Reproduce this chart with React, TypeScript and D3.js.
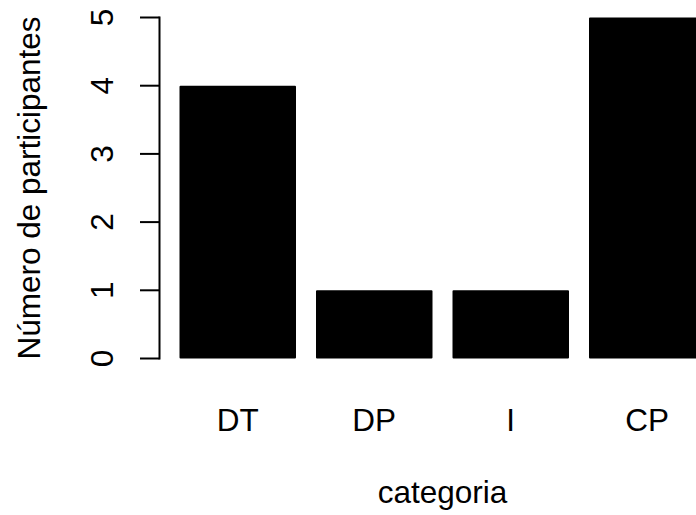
import React from "react";
import * as d3 from "d3";

const categories = ["DT", "DP", "I", "CP"];
const values = [4, 1, 1, 5];
const yTicks = [0, 1, 2, 3, 4, 5];

const W = 696;
const H = 515;
const FONT = "'Liberation Sans', Arial, sans-serif";

export default function App() {
  const x = d3
    .scaleBand<string>()
    .domain(categories)
    .range([179.5, 705.5])
    .paddingInner(20 / 136.5)
    .paddingOuter(0);
  const y = d3.scaleLinear().domain([0, 5]).range([358.5, 17.5]);
  const axisX = 159.5;
  const fs = 31.5;

  return (
    <svg
      width={W}
      height={H}
      style={{ position: "fixed", top: 0, left: 0, background: "#fff" }}
      fontFamily={FONT}
    >
      <rect x={0} y={0} width={W} height={H} fill="#fff" />
      {categories.map((c, i) => (
        <rect
          key={c}
          x={(x(c) as number) + 1}
          y={y(values[i]) + 1}
          width={x.bandwidth() - 2}
          height={y(0) - y(values[i]) - 2}
          fill="#000"
          stroke="#000"
          strokeWidth={2}
          strokeLinejoin="round"
        />
      ))}
      <line x1={axisX} x2={axisX} y1={y(0)} y2={y(5)} stroke="#000" strokeWidth={2} strokeLinecap="square" />
      {yTicks.map((t) => (
        <g key={t}>
          <line x1={140} x2={axisX} y1={y(t)} y2={y(t)} stroke="#000" strokeWidth={2} />
          <text
            transform={`translate(113,${y(t)}) rotate(-90)`}
            textAnchor="middle"
            fontSize={fs}
            fill="#000"
          >
            {t}
          </text>
        </g>
      ))}
      {categories.map((c) => (
        <text
          key={c}
          x={(x(c) as number) + x.bandwidth() / 2}
          y={431}
          textAnchor="middle"
          fontSize={fs}
          fill="#000"
        >
          {c}
        </text>
      ))}
      <text x={442.5} y={503} textAnchor="middle" fontSize={fs} fill="#000">
        categoria
      </text>
      <text
        transform={`translate(40,${(y(0) + y(5)) / 2}) rotate(-90)`}
        textAnchor="middle"
        fontSize={fs}
        fill="#000"
      >
        Número de participantes
      </text>
    </svg>
  );
}
